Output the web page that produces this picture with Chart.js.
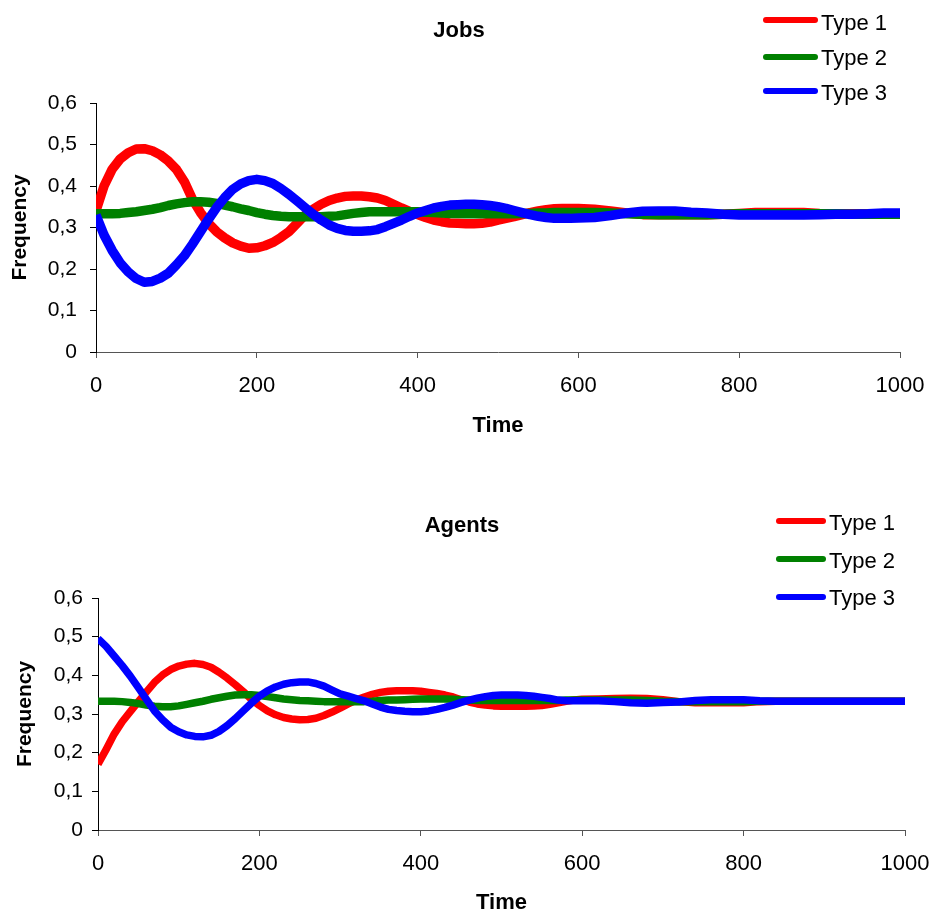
<!DOCTYPE html>
<html><head><meta charset="utf-8">
<script src="https://cdn.jsdelivr.net/npm/chart.js@4.4.1/dist/chart.umd.min.js"></script>
<style>
html,body{margin:0;padding:0;background:#fff;width:931px;height:914px;overflow:hidden;font-family:"Liberation Sans",Arial,sans-serif;}
canvas{position:absolute;left:0;}
.title{position:absolute;width:200px;text-align:center;font-weight:bold;font-size:22px;line-height:22px;color:#000;}
.lg-line{position:absolute;height:6px;border-radius:3px;}
.lg-text{position:absolute;font-size:22px;line-height:22px;color:#000;white-space:nowrap;}
</style></head><body>
<canvas id="jobs" width="931" height="460" style="top:0;width:931px;height:460px"></canvas>
<canvas id="agents" width="931" height="454" style="top:460px;width:931px;height:454px"></canvas>
<div class="title" style="left:359px;top:19px">Jobs</div>
<div class="title" style="left:362px;top:514px">Agents</div>
<div id="legends"></div>
<script>
const typeNames = ['Type 1', 'Type 2', 'Type 3'];
const typeColors = ['#FF0000', '#008000', '#0000FF'];

const timeSteps = [0,10,20,30,40,50,60,70,80,90,
  100,110,120,130,140,150,160,170,180,190,
  200,210,220,230,240,250,260,270,280,290,
  300,310,320,330,340,350,360,370,380,390,
  400,410,420,430,440,450,460,470,480,490,
  500,510,520,530,540,550,560,570,580,590,
  600,
  620,640,660,680,700,720,740,760,780,800,
  820,840,860,880,900,920,940,960,980,1000];

const jobsType1 = [0.340,0.400,0.440,0.465,0.480,0.489,0.490,0.485,0.475,0.460,
  0.440,0.410,0.368,0.336,0.310,0.290,0.275,0.263,0.255,0.250,
  0.251,0.256,0.264,0.276,0.290,0.310,0.330,0.344,0.356,0.365,
  0.371,0.375,0.376,0.376,0.374,0.371,0.365,0.356,0.347,0.339,
  0.331,0.324,0.318,0.314,0.311,0.310,0.309,0.309,0.310,0.313,
  0.318,0.322,0.326,0.331,0.336,0.340,0.343,0.345,0.346,0.346,
  0.346,
  0.344,0.340,0.335,0.331,0.331,0.331,0.331,0.331,0.332,0.334,
  0.336,0.336,0.336,0.336,0.334,0.333,0.333,0.333,0.333,0.333];
const jobsType2 = [0.333,0.333,0.333,0.334,0.336,0.338,0.341,0.344,0.348,0.353,
  0.357,0.360,0.362,0.362,0.361,0.358,0.354,0.350,0.345,0.341,
  0.336,0.332,0.329,0.327,0.326,0.326,0.326,0.326,0.326,0.327,
  0.328,0.331,0.334,0.336,0.338,0.338,0.338,0.338,0.338,0.338,
  0.338,0.337,0.336,0.335,0.334,0.334,0.333,0.333,0.333,0.333,
  0.333,0.333,0.333,0.334,0.334,0.335,0.335,0.336,0.336,0.336,
  0.336,
  0.336,0.335,0.333,0.332,0.331,0.331,0.331,0.331,0.332,0.333,
  0.333,0.333,0.333,0.333,0.333,0.333,0.332,0.332,0.332,0.332];
const jobsType3 = [0.330,0.282,0.245,0.215,0.193,0.177,0.168,0.170,0.178,0.190,
  0.210,0.232,0.260,0.290,0.320,0.348,0.372,0.392,0.405,0.413,
  0.416,0.413,0.406,0.394,0.380,0.364,0.348,0.332,0.318,0.306,
  0.298,0.293,0.291,0.291,0.292,0.295,0.302,0.310,0.318,0.327,
  0.335,0.341,0.347,0.351,0.354,0.355,0.356,0.356,0.355,0.353,
  0.350,0.346,0.341,0.336,0.331,0.327,0.324,0.322,0.322,0.322,
  0.323,
  0.324,0.329,0.335,0.339,0.340,0.340,0.337,0.335,0.332,0.330,
  0.330,0.330,0.330,0.330,0.331,0.332,0.332,0.333,0.335,0.335];

const agentsType1 = [0.170,0.208,0.248,0.280,0.306,0.332,0.357,0.382,0.401,0.415,
  0.424,0.429,0.431,0.428,0.421,0.408,0.393,0.376,0.358,0.338,
  0.322,0.308,0.298,0.291,0.287,0.285,0.286,0.289,0.296,0.305,
  0.315,0.326,0.336,0.344,0.351,0.356,0.359,0.360,0.360,0.360,
  0.359,0.356,0.353,0.349,0.344,0.337,0.331,0.326,0.323,0.321,
  0.320,0.320,0.320,0.320,0.321,0.322,0.325,0.329,0.333,0.336,
  0.338,
  0.339,0.340,0.341,0.340,0.337,0.332,0.329,0.329,0.329,0.329,
  0.332,0.333,0.333,0.333,0.333,0.333,0.333,0.333,0.333,0.333];
const agentsType2 = [0.333,0.333,0.333,0.332,0.330,0.327,0.323,0.320,0.319,0.319,
  0.321,0.325,0.329,0.333,0.338,0.342,0.346,0.349,0.350,0.350,
  0.348,0.345,0.342,0.339,0.337,0.335,0.334,0.333,0.332,0.332,
  0.332,0.332,0.332,0.332,0.333,0.335,0.336,0.336,0.337,0.338,
  0.339,0.339,0.339,0.339,0.338,0.337,0.336,0.335,0.335,0.335,
  0.335,0.335,0.335,0.335,0.335,0.335,0.335,0.335,0.336,0.336,
  0.336,
  0.336,0.336,0.336,0.335,0.333,0.332,0.332,0.332,0.332,0.332,
  0.333,0.333,0.333,0.333,0.333,0.333,0.333,0.333,0.333,0.333];
const agentsType3 = [0.495,0.475,0.450,0.425,0.398,0.368,0.338,0.308,0.285,0.266,
  0.254,0.246,0.242,0.241,0.245,0.255,0.270,0.288,0.308,0.328,
  0.346,0.360,0.370,0.377,0.381,0.383,0.383,0.379,0.372,0.362,
  0.352,0.346,0.340,0.334,0.326,0.318,0.312,0.309,0.307,0.306,
  0.306,0.308,0.312,0.317,0.323,0.330,0.336,0.341,0.345,0.348,
  0.349,0.349,0.349,0.348,0.346,0.343,0.340,0.336,0.334,0.334,
  0.334,
  0.334,0.332,0.329,0.328,0.330,0.331,0.335,0.337,0.337,0.337,
  0.334,0.333,0.333,0.333,0.333,0.333,0.333,0.333,0.333,0.333];

const yTicksMin = 0, yTicksMax = 0.6, yTickStep = 0.1;
const xTicksMin = 0, xTicksMax = 1000, xTickStep = 200;

Chart.defaults.font.family = '"Liberation Sans", Arial, sans-serif';
Chart.defaults.color = '#000';

function fmtY(v) { return v === 0 ? '0' : Number(v).toFixed(1).replace('.', ','); }
function fmtX(v) { return String(Math.round(v)); }

function buildChart(id, series, g) {
  const datasets = series.map((vals, i) => ({
    label: typeNames[i],
    data: timeSteps.map((t, k) => ({x: t, y: vals[k]})),
    borderColor: typeColors[i],
    backgroundColor: typeColors[i],
    borderWidth: g.lineWidth,
    pointRadius: 0,
    tension: 0,
    fill: false,
    borderJoinStyle: 'round',
    borderCapStyle: 'butt',
    order: 3 - i
  }));
  return new Chart(document.getElementById(id), {
    type: 'line',
    data: {datasets},
    options: {
      responsive: false, animation: false, devicePixelRatio: 1,
      events: [],
      layout: {padding: {left: 0, top: g.top, right: g.right, bottom: 0}},
      plugins: {legend: {display: false}, title: {display: false}, tooltip: {enabled: false}},
      scales: {
        x: {
          type: 'linear', min: xTicksMin, max: xTicksMax,
          ticks: {stepSize: xTickStep, color: '#000', font: {size: 22}, padding: g.xTickPad, maxRotation: 0, autoSkip: false, callback: fmtX},
          grid: {display: true, drawOnChartArea: false, drawTicks: true, tickLength: 6, color: '#555'},
          border: {display: true, color: '#555', width: 1},
          title: {display: true, text: 'Time', color: '#000', font: {size: 22, weight: 'bold', lineHeight: 1}, padding: {top: 0, bottom: g.xTitlePad}},
          afterFit: s => { s.height = g.xHeight; s.paddingLeft = 0; s.paddingRight = 0; }
        },
        y: {
          min: yTicksMin, max: yTicksMax,
          ticks: {stepSize: yTickStep, color: '#000', font: {size: 21}, padding: g.yTickPad, callback: fmtY},
          grid: {display: true, drawOnChartArea: false, drawTicks: true, tickLength: 6, color: '#000'},
          border: {display: true, color: '#000', width: 1},
          title: {display: true, text: 'Frequency', color: '#000', font: {size: 21, weight: 'bold', lineHeight: 1}, padding: {top: g.yTitlePad, bottom: 0}},
          afterFit: s => { s.width = g.yWidth; }
        }
      }
    }
  });
}

buildChart('jobs', [jobsType1, jobsType2, jobsType3],
  {top: 103, right: 31, xHeight: 108, xTickPad: 15, xTitlePad: 23, yWidth: 96, yTickPad: 13, yTitlePad: 9.5, lineWidth: 9.5});
buildChart('agents', [agentsType1, agentsType2, agentsType3],
  {top: 138, right: 26, xHeight: 84, xTickPad: 15, xTitlePad: 0, yWidth: 98, yTickPad: 9, yTitlePad: 14.5, lineWidth: 7.5});

function addLegend(lineLeft, lineWidth, textLeft, lineYs, textYs) {
  const host = document.getElementById('legends');
  typeNames.forEach((name, i) => {
    const ln = document.createElement('div');
    ln.className = 'lg-line';
    ln.style.left = lineLeft + 'px';
    ln.style.width = lineWidth + 'px';
    ln.style.top = (lineYs[i] - 3) + 'px';
    ln.style.background = typeColors[i];
    host.appendChild(ln);
    const tx = document.createElement('div');
    tx.className = 'lg-text';
    tx.style.left = textLeft + 'px';
    tx.style.top = (textYs[i] - 11) + 'px';
    tx.textContent = name;
    host.appendChild(tx);
  });
}
addLegend(763, 55, 821, [20, 57, 91], [23, 58, 93]);
addLegend(776, 50, 829, [521, 559, 597], [523, 561, 598]);
</script>
</body></html>
